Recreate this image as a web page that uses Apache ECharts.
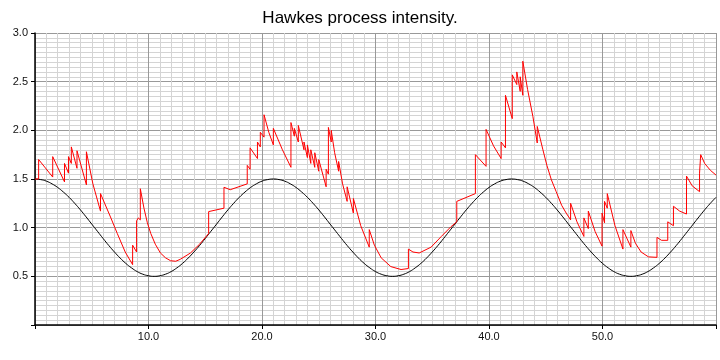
<!DOCTYPE html>
<html>
<head>
<meta charset="utf-8">
<script src="https://cdn.jsdelivr.net/npm/echarts@6/dist/echarts.min.js"></script>
<style>html,body{margin:0;padding:0;background:#fff}#c{width:720px;height:360px}</style>
</head>
<body>
<div id="c"></div>
<script>
const title = "Hawkes process intensity.";
const baseStep = 0.5;
const baseValues = [
1.5,1.494,1.478,1.450,1.413,1.366,1.312,1.25,1.183,1.111,1.037,0.963,0.889,0.817,0.75,0.688,0.633,0.587,0.549,0.522,0.506,0.5,0.506,0.522,0.549,0.587,0.633,0.688,0.75,0.817,0.889,0.963,1.037,1.111,1.183,1.25,1.312,1.366,1.413,1.450,1.478,1.494,1.5,
1.494,1.478,1.450,1.413,1.366,1.312,1.25,1.183,1.111,1.037,0.963,0.889,0.817,0.75,0.688,0.633,0.587,0.549,0.522,0.506,0.5,0.506,0.522,0.549,0.587,0.633,0.688,0.75,0.817,0.889,0.963,1.037,1.111,1.183,1.25,1.312,1.366,1.413,1.450,1.478,1.494,1.5,
1.494,1.478,1.450,1.413,1.366,1.312,1.25,1.183,1.111,1.037,0.963,0.889,0.817,0.75,0.688,0.633,0.587,0.549,0.522,0.506,0.5,0.506,0.522,0.549,0.587,0.633,0.688,0.75,0.817,0.889,0.963,1.037,1.111,1.183,1.25,1.312
];
const redTimes = [
0,0.32,0.32,1.56,1.56,2.6,2.6,2.95,2.95,3.2,3.2,3.7,3.7,4.53,4.53,5.1,5.77,5.77,6.65,7.25,7.95,8.6,8.6,8.95,8.95,9.1,9.28,9.28,9.6,9.9,10.2,10.6,11.05,11.5,11.95,12.4,12.8,13.7,14.5,15.3,15.3,16.65,16.65,17.2,18.7,18.7,18.95,18.95,19.6,19.6,19.85,19.85,20.18,20.18,20.6,21.0,21.0,21.8,22.55,22.55,22.85,22.85,23.2,23.2,23.7,23.7,24.0,24.0,24.3,24.3,24.65,24.65,25.0,25.0,25.65,25.65,25.85,25.85,26.1,26.1,26.4,26.75,26.75,27.1,27.5,27.5,28.05,28.05,28.7,29.45,29.45,29.9,30.5,31.35,32.25,32.9,32.9,33.3,33.85,34.9,35.8,36.65,37.16,37.16,38.8,38.8,39.74,39.74,40.4,41.07,41.07,41.45,41.45,42.05,42.05,42.45,42.45,42.75,42.75,42.98,42.98,43.4,43.87,44.25,44.25,44.75,45.1,45.5,45.92,46.4,46.8,47.19,47.19,47.75,48.36,48.36,48.75,48.75,49.35,49.96,49.96,50.18,50.18,50.42,50.42,51.1,51.8,51.8,52.5,52.5,52.9,53.4,54.05,54.8,54.8,55.2,55.75,55.75,56.25,56.25,56.8,57.4,57.4,57.9,58.55,58.55,58.65,58.65,59.0,59.5,60
];
const redValues = [
1.5,1.5,1.70,1.52,1.73,1.47,1.66,1.56,1.73,1.66,1.83,1.61,1.79,1.44,1.78,1.45,1.17,1.35,1.11,0.94,0.75,0.62,0.82,0.75,1.07,1.10,1.08,1.40,1.20,1.05,0.94,0.83,0.74,0.69,0.66,0.655,0.675,0.74,0.83,0.94,1.165,1.20,1.415,1.39,1.45,1.64,1.60,1.82,1.71,1.88,1.83,1.98,1.93,2.16,1.98,1.85,2.02,1.80,1.62,2.08,1.94,2.02,1.88,2.05,1.80,1.88,1.72,1.85,1.66,1.80,1.62,1.77,1.58,1.70,1.42,1.60,1.55,2.03,1.88,2.0,1.77,1.58,1.68,1.45,1.27,1.42,1.15,1.30,1.02,0.80,0.98,0.82,0.69,0.60,0.57,0.58,0.78,0.75,0.74,0.80,0.91,1.01,1.06,1.27,1.35,1.75,1.63,2.01,1.84,1.71,1.88,1.82,2.36,2.12,2.57,2.47,2.60,2.40,2.55,2.36,2.71,2.42,2.14,1.87,2.04,1.80,1.64,1.49,1.37,1.23,1.15,1.08,1.25,1.06,0.91,1.10,0.99,1.17,0.96,0.81,1.15,1.05,1.27,1.20,1.35,1.02,0.78,0.98,0.80,0.97,0.84,0.75,0.70,0.695,0.90,0.87,0.87,1.06,1.02,1.22,1.17,1.14,1.53,1.43,1.37,1.56,1.54,1.75,1.66,1.59,1.54
];
const xTickValues = [10,20,30,40,50];
const yTickLabels = ["0.5","1.0","1.5","2.0","2.5","3.0"];

const baseData = baseValues.map((v,i)=>[i*baseStep, v]);
const redData = redTimes.map((t,i)=>[t, redValues[i]]);

const chart = echarts.init(document.getElementById('c'), null, {renderer:'canvas'});
chart.setOption({
  animation:false,
  backgroundColor:'#fff',
  title:{text:title,left:'center',top:5,textStyle:{fontFamily:'Liberation Sans, Arial, sans-serif',fontSize:17,fontWeight:'normal',color:'#000'}},
  grid:{left:35,right:4,top:33,bottom:35},
  xAxis:{
    type:'value',min:0,max:60,interval:10,
    axisLine:{show:true,onZero:false,lineStyle:{color:'#000',width:1.5}},
    axisTick:{show:true,length:4,lineStyle:{color:'#000'}},
    axisLabel:{color:'#111',fontSize:11,fontFamily:'Liberation Sans, Arial, sans-serif',margin:6,
      formatter:v=> xTickValues.includes(v) ? v.toFixed(1) : ''},
    splitLine:{show:true,lineStyle:{color:'#999',width:1}},
    minorTick:{show:false,splitNumber:10},
    minorSplitLine:{show:true,lineStyle:{color:'#d4d4d4',width:1}}
  },
  yAxis:{
    type:'value',min:0,max:3,interval:0.5,
    axisLine:{show:true,lineStyle:{color:'#000',width:1.5}},
    axisTick:{show:true,length:4,lineStyle:{color:'#000'}},
    axisLabel:{color:'#111',fontSize:11,fontFamily:'Liberation Sans, Arial, sans-serif',margin:7,
      formatter:v=>{const s=v.toFixed(1);return yTickLabels.includes(s)?s:'';}},
    splitLine:{show:true,lineStyle:{color:'#999',width:1}},
    minorTick:{show:false,splitNumber:10},
    minorSplitLine:{show:true,lineStyle:{color:'#d4d4d4',width:1}}
  },
  series:[
    {type:'line',data:baseData,showSymbol:false,smooth:true,lineStyle:{color:'#000',width:1},z:3},
    {type:'line',data:redData,showSymbol:false,lineStyle:{color:'#ff0000',width:1},z:4}
  ]
});
</script>
</body>
</html>
